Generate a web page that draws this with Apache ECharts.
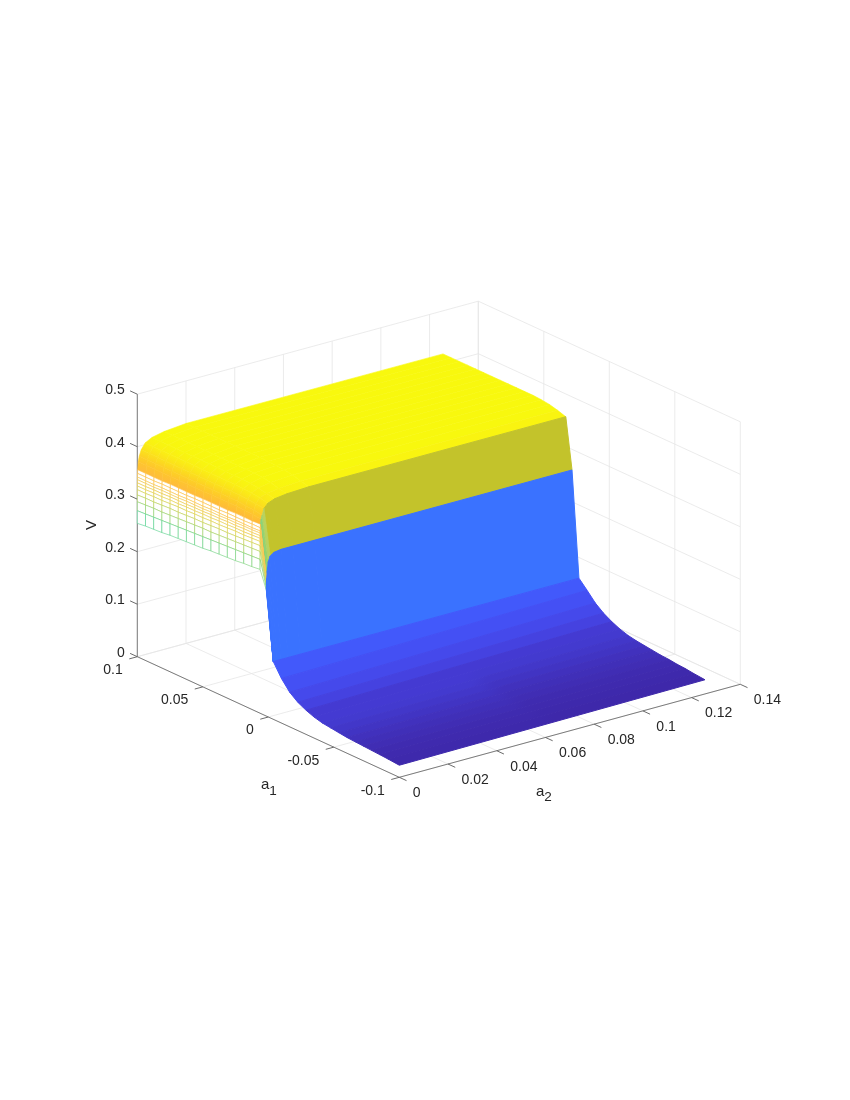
<!DOCTYPE html>
<html>
<head>
<meta charset="utf-8">
<style>
  html, body { margin: 0; padding: 0; background: #fff; }
  #chart { width: 850px; height: 1100px; }
</style>
</head>
<body>
<div id="chart"></div>
<script src="https://cdn.jsdelivr.net/npm/echarts@6/dist/echarts.min.js"></script>
<script>
// ticks of the three box axes
const a1Ticks = [0.1, 0.05, 0, -0.05, -0.1];
const a1TickLabels = ["0.1", "0.05", "0", "-0.05", "-0.1"];
const a2Ticks = [0, 0.02, 0.04, 0.06, 0.08, 0.1, 0.12, 0.14];
const a2TickLabels = ["0", "0.02", "0.04", "0.06", "0.08", "0.1", "0.12", "0.14"];
const vTicks = [0, 0.1, 0.2, 0.3, 0.4, 0.5];
const vTickLabels = ["0", "0.1", "0.2", "0.3", "0.4", "0.5"];

// upper part of the surface: a1 rows, a2 levels, V read per level along the rows
const a1Rows = [0.1, 0.09375, 0.0875, 0.08125, 0.075, 0.06875, 0.0625, 0.05625, 0.05, 0.04375,
  0.0375, 0.03125, 0.025, 0.01875, 0.0125, 0.00625, 0.0015, -0.0038];
const a2Levels = [0, 0.00001, 0.00002, 0.00003, 0.00004, 0.00005, 0.00006, 0.00007, 0.00008, 0.0001,
  0.00015, 0.0004, 0.0008, 0.0016, 0.0032, 0.006, 0.011, 0.02, 0.1255];
const vByLevel = [
  [0.254, 0.256, 0.257, 0.258, 0.260, 0.261, 0.262, 0.263, 0.264, 0.266, 0.267, 0.268, 0.269, 0.271, 0.272, 0.274, 0.240, 0.11],
  [0.278, 0.279, 0.280, 0.281, 0.282, 0.283, 0.284, 0.285, 0.286, 0.287, 0.288, 0.289, 0.290, 0.291, 0.292, 0.293, 0.244, 0.11],
  [0.295, 0.296, 0.297, 0.297, 0.298, 0.299, 0.300, 0.301, 0.302, 0.302, 0.303, 0.304, 0.305, 0.306, 0.307, 0.308, 0.247, 0.11],
  [0.308, 0.309, 0.309, 0.310, 0.311, 0.311, 0.312, 0.313, 0.313, 0.314, 0.315, 0.315, 0.316, 0.317, 0.318, 0.319, 0.250, 0.11],
  [0.318, 0.318, 0.319, 0.319, 0.320, 0.321, 0.321, 0.322, 0.322, 0.323, 0.323, 0.324, 0.325, 0.325, 0.326, 0.327, 0.252, 0.11],
  [0.325, 0.325, 0.326, 0.326, 0.327, 0.327, 0.328, 0.328, 0.329, 0.329, 0.330, 0.330, 0.331, 0.331, 0.332, 0.333, 0.254, 0.11],
  [0.331, 0.331, 0.332, 0.332, 0.333, 0.333, 0.333, 0.334, 0.334, 0.335, 0.335, 0.336, 0.336, 0.337, 0.337, 0.338, 0.255, 0.11],
  [0.337, 0.337, 0.337, 0.338, 0.338, 0.338, 0.339, 0.339, 0.339, 0.340, 0.340, 0.341, 0.341, 0.342, 0.342, 0.343, 0.257, 0.11],
  [0.342, 0.342, 0.342, 0.343, 0.343, 0.343, 0.344, 0.344, 0.344, 0.345, 0.345, 0.345, 0.346, 0.346, 0.346, 0.347, 0.258, 0.11],
  [0.349, 0.349, 0.349, 0.350, 0.350, 0.350, 0.350, 0.351, 0.351, 0.351, 0.351, 0.352, 0.352, 0.352, 0.353, 0.353, 0.260, 0.11],
  [0.356, 0.356, 0.356, 0.356, 0.357, 0.357, 0.357, 0.357, 0.358, 0.358, 0.358, 0.358, 0.359, 0.359, 0.359, 0.360, 0.262, 0.11],
  [0.371, 0.371, 0.371, 0.371, 0.371, 0.371, 0.371, 0.371, 0.371, 0.372, 0.372, 0.372, 0.372, 0.372, 0.371, 0.369, 0.276, 0.11],
  [0.381, 0.381, 0.381, 0.381, 0.381, 0.381, 0.381, 0.381, 0.381, 0.381, 0.381, 0.381, 0.381, 0.380, 0.379, 0.376, 0.293, 0.11],
  [0.392, 0.392, 0.392, 0.392, 0.392, 0.392, 0.392, 0.392, 0.392, 0.392, 0.392, 0.392, 0.392, 0.391, 0.390, 0.388, 0.303, 0.11],
  [0.403, 0.403, 0.403, 0.403, 0.403, 0.403, 0.403, 0.403, 0.403, 0.403, 0.403, 0.403, 0.402, 0.401, 0.399, 0.396, 0.308, 0.11],
  [0.410, 0.410, 0.410, 0.410, 0.410, 0.410, 0.410, 0.410, 0.410, 0.410, 0.410, 0.410, 0.409, 0.407, 0.404, 0.401, 0.310, 0.11],
  [0.415, 0.415, 0.415, 0.415, 0.415, 0.415, 0.415, 0.415, 0.415, 0.415, 0.415, 0.415, 0.414, 0.411, 0.407, 0.404, 0.310, 0.11],
  [0.419, 0.419, 0.419, 0.419, 0.419, 0.419, 0.419, 0.419, 0.419, 0.419, 0.419, 0.418, 0.417, 0.414, 0.410, 0.406, 0.310, 0.11],
  [0.418, 0.418, 0.418, 0.418, 0.418, 0.418, 0.418, 0.418, 0.418, 0.418, 0.418, 0.418, 0.417, 0.415, 0.411, 0.406, 0.310, 0.11]
];

// lower part: V at the a2=0 side and at the far side of each a1 row
const a1Low = [-0.0038, -0.01, -0.0163, -0.0225, -0.0288, -0.035, -0.0413, -0.0475, -0.0538, -0.06,
  -0.0663, -0.0725, -0.0788, -0.085, -0.0913, -0.1];
const vLowNear = [0.11, 0.085, 0.066, 0.054, 0.046, 0.040, 0.036, 0.034, 0.032, 0.030,
  0.029, 0.028, 0.027, 0.026, 0.025, 0.023];
const vLowFar = [0.11, 0.094, 0.077, 0.065, 0.056, 0.049, 0.044, 0.041, 0.039, 0.037,
  0.035, 0.034, 0.032, 0.031, 0.029, 0.027];

// colours
const lowColors = ["#4259fb", "#4450f4", "#4549eb", "#4542e0", "#443ad2", "#433acf", "#4237c9", "#4134c3",
  "#4131bd", "#402fb8", "#402db4", "#3f2bb0", "#3f2aae", "#3e29ac", "#3e28aa"];
const oliveColor = "#c3c32b";
const blueColor = "#3a72ff";
const mapV = [0.24, 0.254, 0.29, 0.32, 0.345, 0.36, 0.38, 0.40, 0.412];
const mapColor = ["#1fc8a0", "#35d2a8", "#96d26c", "#dfd24e", "#fdc650", "#ffb838", "#fdcf26", "#faec16", "#f8f80e"];

const MESH_TOP = 10; // levels below this one are open mesh, above it filled
const OLIVE_ROW = 15;
const BLUE_ROW = 16;
const FLAT_LOW = 5; // the first low strips show as flat bands, the rest run smooth

// the box seen from the fixed MATLAB view, in page units of the hidden axes
function project(a1, a2, v) {
  const d1 = (0.1 - a1) / 0.2;
  const d2 = a2 / 0.14;
  return [137.3 + d1 * 262 + d2 * 341, 656.7 + d1 * 120.6 - d2 * 93 - (v / 0.5) * 262.5];
}

function colorOf(v) {
  if (v <= mapV[0]) return mapColor[0];
  for (let i = 1; i < mapV.length; i++) {
    if (v <= mapV[i]) {
      const t = (v - mapV[i - 1]) / (mapV[i] - mapV[i - 1]);
      return echarts.color.lerp(t, [mapColor[i - 1], mapColor[i]]);
    }
  }
  return mapColor[mapColor.length - 1];
}

// ---- frame: grid, box and ticks
const frame = [];
const A1_BACK = 0.1, A1_FRONT = -0.1, A2_MAX = 0.14, V_MAX = 0.5;
vTicks.forEach(function (v) {
  frame.push(["grid", [A1_BACK, 0, v], [A1_BACK, A2_MAX, v]]);
  frame.push(["grid", [A1_BACK, A2_MAX, v], [A1_FRONT, A2_MAX, v]]);
});
a2Ticks.forEach(function (a2) {
  frame.push(["grid", [A1_BACK, a2, 0], [A1_BACK, a2, V_MAX]]);
  frame.push(["grid", [A1_BACK, a2, 0], [A1_FRONT, a2, 0]]);
});
a1Ticks.forEach(function (a1) {
  frame.push(["grid", [a1, A2_MAX, 0], [a1, A2_MAX, V_MAX]]);
  frame.push(["grid", [a1, 0, 0], [a1, A2_MAX, 0]]);
});
frame.push(["axis", [A1_BACK, 0, 0], [A1_BACK, 0, V_MAX]]);
frame.push(["axis", [A1_BACK, 0, 0], [A1_FRONT, 0, 0]]);
frame.push(["axis", [A1_FRONT, 0, 0], [A1_FRONT, A2_MAX, 0]]);
vTicks.forEach(function (v) {
  frame.push(["tick", [A1_BACK, 0, v], [A1_BACK + 0.0055, 0, v]]);
});
a1Ticks.forEach(function (a1) {
  frame.push(["tick", [a1, 0, 0], [a1, -0.0033, 0]]);
});
a2Ticks.forEach(function (a2) {
  frame.push(["tick", [A1_FRONT, a2, 0], [A1_FRONT - 0.0055, a2, 0]]);
});

// ---- surface cells, back rows first
const cells = [];
for (let r = 0; r < a1Rows.length - 1; r++) {
  for (let l = a2Levels.length - 2; l >= 0; l--) {
    cells.push({
      pts: [
        [a1Rows[r], a2Levels[l], vByLevel[l][r]],
        [a1Rows[r], a2Levels[l + 1], vByLevel[l + 1][r]],
        [a1Rows[r + 1], a2Levels[l + 1], vByLevel[l + 1][r + 1]],
        [a1Rows[r + 1], a2Levels[l], vByLevel[l][r + 1]]
      ],
      row: r,
      level: l
    });
  }
}
for (let i = 0; i < a1Low.length - 1; i++) {
  cells.push({
    pts: [
      [a1Low[i], 0, vLowNear[i]],
      [a1Low[i], a2Levels[a2Levels.length - 1], vLowFar[i]],
      [a1Low[i + 1], a2Levels[a2Levels.length - 1], vLowFar[i + 1]],
      [a1Low[i + 1], 0, vLowNear[i + 1]]
    ],
    low: i
  });
}

function renderFrame(params, api) {
  const seg = frame[api.value(0)];
  const p1 = api.coord(project(seg[1][0], seg[1][1], seg[1][2]));
  const p2 = api.coord(project(seg[2][0], seg[2][1], seg[2][2]));
  const stroke = seg[0] === "grid" ? "#e6e6e6" : seg[0] === "axis" ? "#6e6e6e" : "#5a5a5a";
  return {
    type: "line",
    shape: { x1: p1[0], y1: p1[1], x2: p2[0], y2: p2[1] },
    style: { stroke: stroke, lineWidth: seg[0] === "grid" ? 0.8 : 0.9 }
  };
}

function gradient(from, to, cFrom, cTo) {
  return new echarts.graphic.LinearGradient(from[0], from[1], to[0], to[1],
    [{ offset: 0, color: cFrom }, { offset: 1, color: cTo }], true);
}

function mid(p, q) {
  return [(p[0] + q[0]) / 2, (p[1] + q[1]) / 2];
}

function renderCell(params, api) {
  const c = cells[api.value(0)];
  const pts = c.pts.map(function (p) {
    return api.coord(project(p[0], p[1], p[2]));
  });
  let fill, stroke, lineWidth = 0.6;

  if (c.low !== undefined) {
    if (c.low < FLAT_LOW) {
      fill = stroke = lowColors[c.low];
    } else {
      fill = stroke = gradient(mid(pts[0], pts[1]), mid(pts[3], pts[2]), lowColors[c.low - 1], lowColors[c.low]);
    }
    lineWidth = 1;
  } else if (c.row === BLUE_ROW) {
    fill = stroke = blueColor;
    lineWidth = 1;
  } else if (c.row === OLIVE_ROW && c.level > MESH_TOP + 2) {
    fill = stroke = oliveColor;
    lineWidth = 1;
  } else if (c.row === OLIVE_ROW && c.level >= MESH_TOP) {
    // narrow rim of the olive facet turns green where the surface falls away
    fill = stroke = colorOf((c.pts[0][2] + c.pts[3][2]) / 2 - 0.03);
  } else if (c.level < MESH_TOP) {
    // open mesh: white face, coloured edge
    fill = "#fff";
    stroke = colorOf((c.pts[0][2] + c.pts[1][2]) / 2);
    lineWidth = 0.65;
  } else {
    const vLo = (c.pts[0][2] + c.pts[3][2]) / 2;
    const vHi = (c.pts[1][2] + c.pts[2][2]) / 2;
    fill = stroke = gradient(mid(pts[0], pts[3]), mid(pts[1], pts[2]), colorOf(vLo), colorOf(vHi));
  }
  return {
    type: "polygon",
    shape: { points: pts },
    style: { fill: fill, stroke: stroke, lineWidth: lineWidth }
  };
}

// ---- tick labels, hung from the projected tick positions
const labels = [];
vTicks.forEach(function (v, i) {
  labels.push([[A1_BACK, 0, v], vTickLabels[i], "right", -12.5, -4]);
});
a1Ticks.forEach(function (a1, i) {
  labels.push([[a1, 0, 0], a1TickLabels[i], "right", -14.5, 13.5]);
});
a2Ticks.forEach(function (a2, i) {
  labels.push([[A1_FRONT, a2, 0], a2TickLabels[i], "left", 13.5, 16]);
});

function renderLabel(params, api) {
  const l = labels[api.value(0)];
  const p = api.coord(project(l[0][0], l[0][1], l[0][2]));
  return {
    type: "text",
    x: p[0] + l[3],
    y: p[1] + l[4],
    style: {
      text: l[1],
      fill: "#262626",
      font: "14px 'Liberation Sans'",
      align: l[2],
      verticalAlign: "middle"
    }
  };
}

const titleFont = "15px 'Liberation Sans'";
const subFont = "13.5px 'Liberation Sans'";

function subscriptTitle(at, name, sub) {
  return function (params, api) {
    const p = api.coord(at);
    return {
      type: "text",
      x: p[0],
      y: p[1],
      style: {
        text: "{b|" + name + "}{s|" + sub + "}",
        rich: {
          b: { font: titleFont, fill: "#262626" },
          s: { font: subFont, fill: "#262626", padding: [12, 0, 0, 0] }
        },
        align: "left",
        verticalAlign: "middle"
      }
    };
  };
}

function customSeries(count, render) {
  const data = [];
  for (let i = 0; i < count; i++) data.push([i]);
  return {
    type: "custom",
    coordinateSystem: "cartesian2d",
    data: data,
    encode: { x: 0, y: 0 },
    renderItem: render,
    clip: false,
    silent: true,
    animation: false
  };
}

const chart = echarts.init(document.getElementById("chart"), null, { renderer: "canvas" });
chart.setOption({
  backgroundColor: "#fff",
  animation: false,
  grid: { left: 0, right: 0, top: 0, bottom: 0 },
  xAxis: { type: "value", min: 0, max: 850, show: false },
  yAxis: { type: "value", min: 0, max: 1100, inverse: true, show: false },
  series: [
    customSeries(frame.length, renderFrame),
    customSeries(cells.length, renderCell),
    customSeries(labels.length, renderLabel),
    customSeries(1, function (params, api) {
      const p = api.coord([91.5, 525]);
      return {
        type: "text",
        x: p[0],
        y: p[1],
        rotation: Math.PI / 2,
        style: { text: "V", fill: "#262626", font: titleFont, align: "center", verticalAlign: "middle" }
      };
    }),
    customSeries(1, subscriptTitle([261, 785], "a", "1")),
    customSeries(1, subscriptTitle([536, 791.5], "a", "2"))
  ]
});
</script>
</body>
</html>
